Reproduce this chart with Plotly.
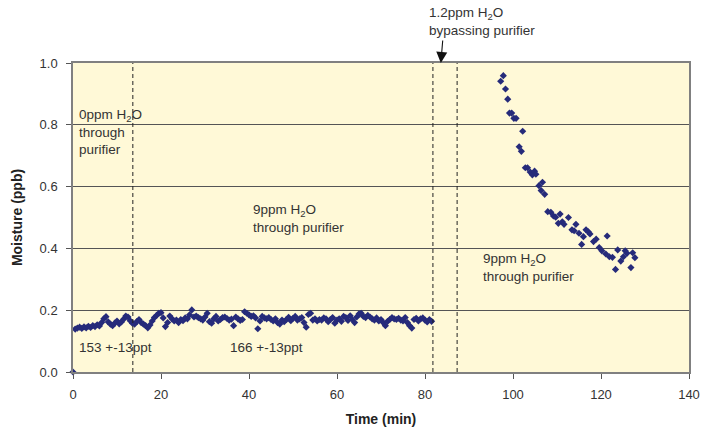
import plotly.graph_objects as go

# ---- data ----
low_time = [
    0.0,
    0.5, 1.0, 1.5, 2.0, 2.5, 3.0, 3.5, 4.0, 4.5, 5.0,
    5.5, 6.0, 6.5, 7.0, 7.5, 8.0, 8.5, 9.0, 9.5, 10.0,
    10.5, 11.0, 11.5, 12.0, 12.5, 13.0, 13.5, 14.0, 14.5, 15.0,
    15.5, 16.0, 16.5, 17.0, 17.5, 18.0, 18.5, 19.0, 19.5, 20.0,
    20.5, 21.0, 21.5, 22.0, 22.5, 23.0, 23.5, 24.0, 24.5, 25.0,
    25.5, 26.0, 26.5, 27.0, 27.5, 28.0, 28.5, 29.0, 29.5, 30.0,
    30.5, 31.0, 31.5, 32.0, 32.5, 33.0, 33.5, 34.0, 34.5, 35.0,
    35.5, 36.0, 36.5, 37.0, 37.5, 38.0, 38.5, 39.0, 39.5, 40.0,
    40.5, 41.0, 41.5, 42.0, 42.5, 43.0, 43.5, 44.0, 44.5, 45.0,
    45.5, 46.0, 46.5, 47.0, 47.5, 48.0, 48.5, 49.0, 49.5, 50.0,
    50.5, 51.0, 51.5, 52.0, 52.5, 53.0, 53.5, 54.0, 54.5, 55.0,
    55.5, 56.0, 56.5, 57.0, 57.5, 58.0, 58.5, 59.0, 59.5, 60.0,
    60.5, 61.0, 61.5, 62.0, 62.5, 63.0, 63.5, 64.0, 64.5, 65.0,
    65.5, 66.0, 66.5, 67.0, 67.5, 68.0, 68.5, 69.0, 69.5, 70.0,
    70.5, 71.0, 71.5, 72.0, 72.5, 73.0, 73.5, 74.0, 74.5, 75.0,
    75.5, 76.0, 76.5, 77.0, 77.5, 78.0, 78.5, 79.0, 79.5, 80.0,
    80.5, 81.0, 81.5,
]
low_ppb = [
    0.0,
    0.139, 0.142, 0.145, 0.141, 0.146, 0.143, 0.148, 0.144, 0.150, 0.147,
    0.153, 0.149, 0.160, 0.172, 0.179, 0.162, 0.155, 0.150, 0.158, 0.165,
    0.156, 0.162, 0.171, 0.181, 0.178, 0.166, 0.158, 0.155, 0.163, 0.170,
    0.160, 0.155, 0.150, 0.143, 0.152, 0.165, 0.176, 0.183, 0.190, 0.192,
    0.175, 0.147, 0.160, 0.181, 0.172, 0.165, 0.168, 0.160, 0.170, 0.166,
    0.175, 0.172, 0.185, 0.201, 0.178, 0.181, 0.176, 0.172, 0.168, 0.178,
    0.190, 0.163, 0.158, 0.172, 0.180, 0.165, 0.170, 0.176, 0.178, 0.173,
    0.168, 0.171, 0.150, 0.178, 0.172, 0.167, 0.170, 0.195, 0.190, 0.185,
    0.180, 0.182, 0.175, 0.140, 0.165, 0.180, 0.175, 0.172, 0.176, 0.170,
    0.165, 0.172, 0.160, 0.155, 0.168, 0.163, 0.170, 0.177, 0.166, 0.174,
    0.180, 0.168, 0.172, 0.176, 0.160, 0.145, 0.186, 0.190, 0.168, 0.172,
    0.165, 0.170, 0.168, 0.175, 0.172, 0.163, 0.170, 0.176, 0.158, 0.168,
    0.172, 0.164, 0.180, 0.176, 0.167, 0.182, 0.170, 0.160, 0.178, 0.188,
    0.190, 0.180, 0.176, 0.183, 0.178, 0.172, 0.168, 0.175, 0.165, 0.170,
    0.160, 0.150, 0.164, 0.170, 0.176, 0.172, 0.170, 0.174, 0.168, 0.165,
    0.176, 0.160, 0.150, 0.142, 0.170, 0.174, 0.165, 0.172, 0.175, 0.168,
    0.162, 0.170, 0.164,
]

decay_time = [
    97.2, 97.8, 98.3, 98.8, 99.2, 99.7, 100.2, 100.7, 101.4, 101.9,
    102.2, 102.8, 103.3, 103.9, 104.4, 104.9, 105.2, 105.9, 106.4, 106.7,
    107.2, 107.9, 108.6, 109.2, 109.7, 110.3, 110.7, 111.2, 111.6, 112.6,
    113.4, 113.9, 114.3, 115.0, 115.6, 116.0, 116.6, 117.1, 117.5, 118.3,
    118.9, 119.6, 120.2, 121.1, 121.4, 121.9, 122.6, 123.3, 123.8, 124.5,
    125.1, 125.5, 125.9, 126.8, 127.2, 127.7,
]
decay_ppb = [
    0.941, 0.959, 0.916, 0.883, 0.838, 0.838, 0.821, 0.821, 0.729, 0.714,
    0.779, 0.661, 0.661, 0.647, 0.638, 0.650, 0.640, 0.603, 0.587, 0.614,
    0.575, 0.519, 0.517, 0.505, 0.501, 0.481, 0.511, 0.486, 0.478, 0.500,
    0.460, 0.457, 0.478, 0.449, 0.413, 0.438, 0.460, 0.454, 0.447, 0.422,
    0.430, 0.403, 0.392, 0.382, 0.440, 0.373, 0.371, 0.332, 0.395, 0.359,
    0.373, 0.392, 0.384, 0.338, 0.386, 0.370,
]

event_times = [13.6, 81.8, 87.3]
x_ticks = [0, 20, 40, 60, 80, 100, 120, 140]
y_ticks = [0.0, 0.2, 0.4, 0.6, 0.8, 1.0]

# ---- figure ----
FONT = "Arial, Liberation Sans, sans-serif"
marker = dict(symbol="diamond", size=5.5, color="#262B7A")
fig = go.Figure()
fig.add_trace(go.Scatter(x=low_time + decay_time, y=low_ppb + decay_ppb,
                         mode="markers", marker=marker, cliponaxis=False,
                         showlegend=False))

for t in event_times:
    fig.add_shape(type="line", x0=t, x1=t, y0=0, y1=1, xref="x", yref="y",
                  line=dict(color="#222222", width=1, dash="4px,3px"))

txt = dict(family=FONT, size=13.5, color="#333333")
ann = [
    dict(x=1, y=0.865, text="0ppm H<sub>2</sub>O<br>through<br>purifier"),
    dict(x=40.4, y=0.556, text="9ppm H<sub>2</sub>O<br>through purifier"),
    dict(x=92.8, y=0.399, text="9ppm H<sub>2</sub>O<br>through purifier"),
    dict(x=1, y=0.110, text="153 +-13ppt"),
    dict(x=35.3, y=0.110, text="166 +-13ppt"),
]
for a in ann:
    fig.add_annotation(**a, xref="x", yref="y", xanchor="left", yanchor="top",
                       align="left", showarrow=False, font=txt)

fig.add_annotation(x=80.4, y=1.0, xref="x", yref="paper", yshift=60,
                   text="1.2ppm H<sub>2</sub>O<br>bypassing purifier",
                   xanchor="left", yanchor="top", align="left", showarrow=False, font=txt)
fig.add_annotation(x=83.6, y=1.0, xref="x", yref="paper", text="", showarrow=True,
                   ax=2, ay=-24, arrowhead=2, arrowsize=2, arrowwidth=1.1,
                   arrowcolor="#111111", standoff=0)

axis_common = dict(showline=True, linecolor="#808080", linewidth=1.5, mirror=True,
                   ticks="outside", ticklen=5, tickcolor="#555555", automargin=False,
                   tickfont=dict(family=FONT, size=13, color="#333333"),
                   zeroline=False)
fig.update_xaxes(range=[0, 140], tickvals=x_ticks, showgrid=False, ticklabelstandoff=5,
                 title=dict(text="<b>Time (min)</b>", standoff=13,
                            font=dict(family=FONT, size=14, color="#222222")),
                 **axis_common)
fig.update_yaxes(range=[0, 1.0], tickvals=y_ticks, tickformat=".1f", showgrid=True,
                 gridcolor="#555555", gridwidth=1, ticklabelstandoff=6,
                 title=dict(text="<b>Moisture (ppb)</b>", standoff=14,
                            font=dict(family=FONT, size=14, color="#222222")),
                 **axis_common)

fig.update_layout(width=703, height=434, margin=dict(l=73, r=14, t=63, b=62),
                  plot_bgcolor="#FFF9D7", paper_bgcolor="white", showlegend=False)

# remove the default 8px page margin so the figure fills the window exactly
fig.write_html("out.html", config={"displayModeBar": False},
               post_script="document.body.style.margin='0';")
